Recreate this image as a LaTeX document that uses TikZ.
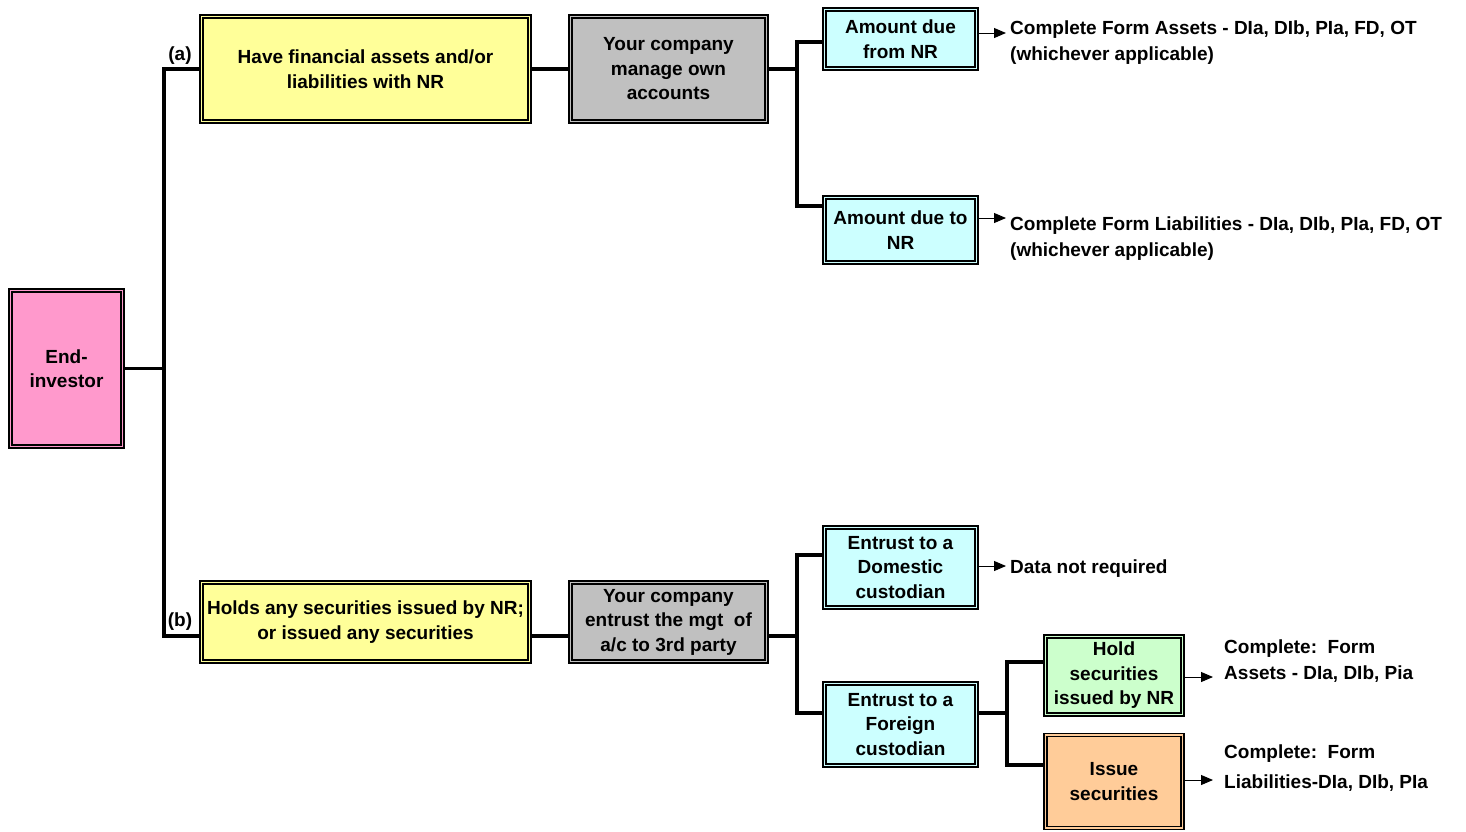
\documentclass[tikz,border=0pt]{standalone}
\usepackage{fontspec}
\setmainfont{Liberation Sans}
\usetikzlibrary{arrows.meta}
\definecolor{cpink}{HTML}{FF99CC}
\definecolor{cyellow}{HTML}{FFFF99}
\definecolor{cgray}{HTML}{C0C0C0}
\definecolor{ccyan}{HTML}{CCFFFF}
\definecolor{cgreen}{HTML}{CCFFCC}
\definecolor{corange}{HTML}{FFCC99}
\begin{document}
\begin{tikzpicture}[x=1pt,y=-1pt,
  every node/.style={font=\fontsize{19}{24.5}\selectfont\bfseries},
  box/.style={draw=black, line width=1.5pt, double distance=1.8pt, inner sep=0pt, align=center},
  bus/.style={line width=3.6pt, line join=miter},
  arr/.style={line width=1pt, -{Triangle[length=12pt,width=10pt]}},
  note/.style={anchor=west, align=left, inner sep=0pt, font=\fontsize{19}{26}\selectfont\bfseries}]
\useasboundingbox (0,0) rectangle (1466,831);

\node[box, double=cpink, fill=cpink, minimum width=112pt, minimum height=156pt] (end) at (66.5,368.5) {End-\\investor};
\node[box, double=cyellow, fill=cyellow, minimum width=328pt, minimum height=105pt] (ya) at (365.5,69) {Have financial assets and/or\\liabilities with NR};
\node[box, double=cgray, fill=cgray, minimum width=196pt, minimum height=105pt] (ga) at (668.5,69) {Your company\\manage own\\accounts};
\node[box, double=ccyan, fill=ccyan, minimum width=152pt, minimum height=59pt] (c1) at (900.5,39) {Amount due\\from NR};
\node[box, double=ccyan, fill=ccyan, minimum width=152pt, minimum height=65pt] (c2) at (900.5,230) {Amount due to\\NR};
\node[box, double=cyellow, fill=cyellow, minimum width=328pt, minimum height=79pt] (yb) at (365.5,622) {Holds any securities issued by NR;\\or issued any securities};
\node[box, double=cgray, fill=cgray, minimum width=196pt, minimum height=79pt] (gb) at (668.5,622) {Your company\\entrust the mgt\ \ of\\a/c to 3rd party};
\node[box, double=ccyan, fill=ccyan, minimum width=152pt, minimum height=80pt] (c3) at (900.5,567.5) {Entrust to a\\Domestic\\custodian};
\node[box, double=ccyan, fill=ccyan, minimum width=152pt, minimum height=82pt] (c4) at (900.5,724.5) {Entrust to a\\Foreign\\custodian};
\node[box, double=cgreen, fill=cgreen, minimum width=137pt, minimum height=78pt] (gr) at (1114,675.5) {Hold\\securities\\issued by NR};
\node[box, double=corange, fill=corange, minimum width=137pt, minimum height=93pt] (or) at (1114,781.5) {Issue\\securities};

\node (la) at (180,56) {(a)};
\node (lb) at (180,622) {(b)};

% main bus
\coordinate (busA) at (164,69);
\coordinate (busB) at (164,636);
\draw[bus] (ya.west) -- (busA) -- (busB) -- (yb.west |- busB);
\draw[bus] (end.east) -- (busA |- end.east);

% branch (a)
\draw[bus] (ya.east) -- (ga.west);
\coordinate (b2t) at (797,42);
\coordinate (b2b) at (797,206);
\draw[bus] (ga.east) -- (b2t |- ga.east);
\draw[bus] (c1.west |- b2t) -- (b2t) -- (b2b) -- (c2.west |- b2b);

% branch (b)
\draw[bus] (yb.east |- busB) -- (gb.west |- busB);
\coordinate (b3t) at (797,555);
\coordinate (b3b) at (797,713);
\draw[bus] (gb.east |- busB) -- (b3t |- busB);
\draw[bus] (c3.west |- b3t) -- (b3t) -- (b3b) -- (c4.west |- b3b);
\coordinate (b4t) at (1007,662);
\coordinate (b4b) at (1007,765);
\draw[bus] (c4.east |- b3b) -- (b4t |- b3b);
\draw[bus] (gr.west |- b4t) -- (b4t) -- (b4b) -- (or.west |- b4b);

% notes
\node[note] (t1) at (1010,43) {Complete Form Assets - DIa, DIb, PIa, FD, OT\\(whichever applicable)};
\node[note] (t2) at (1010,238.5) {Complete Form Liabilities - DIa, DIb, PIa, FD, OT\\(whichever applicable)};
\node[note] (t3) at (1010,569) {Data not required};
\node[note] (t4) at (1224,661.5) {Complete:\ \ Form\\Assets - DIa, DIb, Pia};
\node[note] (t5) at (1224,768) {Complete:\ \ Form\\[4pt]Liabilities-DIa, DIb, PIa};

\coordinate (a1) at (1006,33);
\coordinate (a2) at (1006,218);
\coordinate (a3) at (1006,566);
\coordinate (a4) at (1213,677);
\coordinate (a5) at (1213,780);
\draw[arr] (c1.east |- a1) -- (a1);
\draw[arr] (c2.east |- a2) -- (a2);
\draw[arr] (c3.east |- a3) -- (a3);
\draw[arr] (gr.east |- a4) -- (a4);
\draw[arr] (or.east |- a5) -- (a5);
\end{tikzpicture}
\end{document}
